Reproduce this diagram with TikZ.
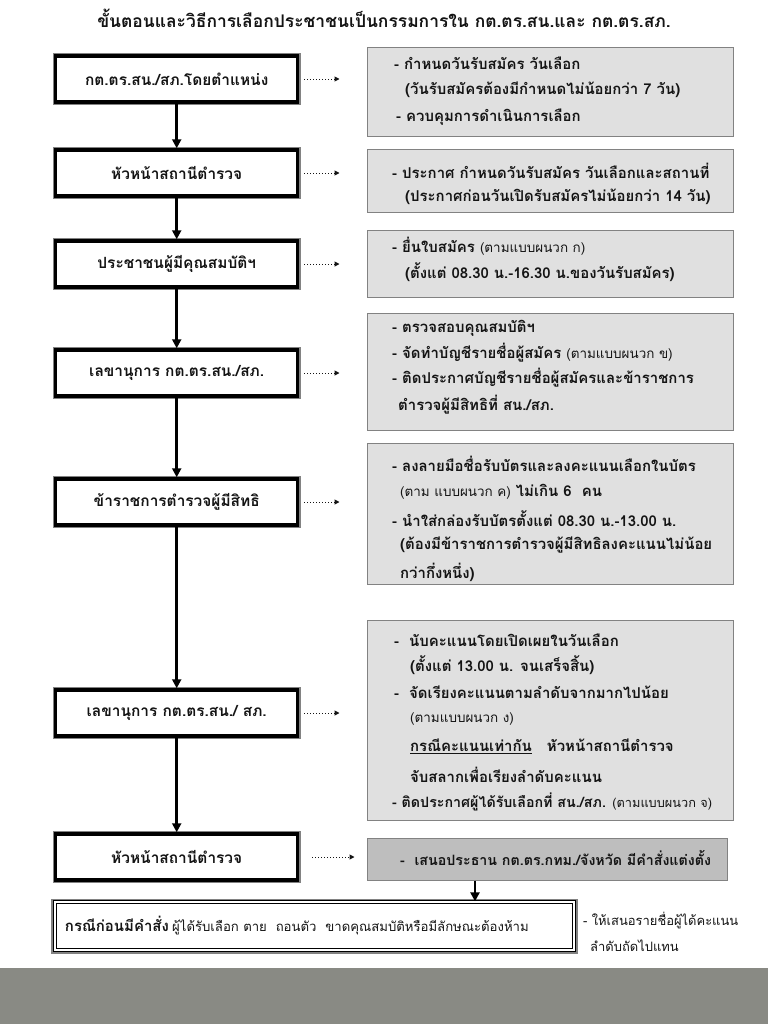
\documentclass[tikz,border=0pt]{standalone}
\usepackage{fontspec}
\setmainfont[Script=Thai]{Loma}
\usetikzlibrary{arrows.meta}
\definecolor{boxgray}{RGB}{224,224,224}
\definecolor{darkbox}{RGB}{190,190,190}
\definecolor{edgegray}{RGB}{130,130,130}
\definecolor{band}{RGB}{137,138,132}
\definecolor{ink}{RGB}{20,20,20}
\newcommand\regpart{\mdseries\fontsize{13.5}{16}\selectfont}
\begin{document}
\begin{tikzpicture}[x=1bp,y=-1bp,
  lbox/.style={draw=black, line width=3.5bp, fill=white, minimum width=242bp,
    minimum height=46bp, inner sep=0pt, text=ink,
    font=\bfseries\fontsize{15.5}{18}\selectfont,
    preaction={draw=edgegray, line width=6bp}},
  bbox/.style={draw=black, line width=1.3bp, double=white, double distance=2bp,
    fill=white, minimum width=519bp, minimum height=48bp, inner sep=0pt,
    preaction={draw=edgegray, line width=7bp}},
  gbox/.style={draw=edgegray, line width=1bp, fill=boxgray, inner sep=0pt,
    minimum width=366bp},
  gline/.style={anchor=west, inner sep=0pt, text=ink,
    font=\bfseries\fontsize{15}{17}\selectfont},
  titlestyle/.style={inner sep=0pt, text=ink, font=\bfseries\fontsize{17.5}{20}\selectfont},
  sidetext/.style={anchor=west, inner sep=0pt, text=ink, font=\fontsize{13}{16}\selectfont},
  arr/.style={draw=black, line width=2.5bp, -{Triangle[length=9bp,width=9bp]}},
  dotarr/.style={draw=ink, line width=1bp, dotted, -{Triangle[length=5bp,width=5bp]}}
]
\useasboundingbox (0,0) rectangle (768,1024);
\fill[white] (0,0) rectangle (768,1024);
\fill[band] (0,968) rectangle (768,1024);

\node[titlestyle] (title) at (384,18) {ขั้นตอนและวิธีการเลือกประชาชนเป็นกรรมการใน กต.ตร.สน.และ กต.ตร.สภ.};

% left column
\node[lbox] (l1) at (176.7,79) {กต.ตร.สน./สภ.โดยตำแหน่ง};
\node[lbox] (l2) at (176.7,173) {หัวหน้าสถานีตำรวจ};
\node[lbox] (l3) at (176.7,264) {ประชาชนผู้มีคุณสมบัติฯ};
\node[lbox] (l4) at (176.7,373) {เลขานุการ กต.ตร.สน./สภ.};
\node[lbox] (l5) at (176.7,502) {ข้าราชการตำรวจผู้มีสิทธิ};
\node[lbox] (l6) at (176.7,713) {เลขานุการ กต.ตร.สน./ สภ.};
\node[lbox] (l7) at (176.7,857) {หัวหน้าสถานีตำรวจ};

% gray boxes
\node[gbox, minimum height=89bp] (g1) at (550,91.5) {};
\node[gbox, minimum height=63bp] (g2) at (550,180.5) {};
\node[gbox, minimum height=67bp] (g3) at (550,263.5) {};
\node[gbox, minimum height=117bp] (g4) at (550,371.5) {};
\node[gbox, minimum height=141bp] (g5) at (550,513.5) {};
\node[gbox, minimum height=200bp] (g6) at (550,720) {};
\node[gbox, fill=darkbox, minimum width=360bp, minimum height=42bp] (g7) at (547,859) {};

% texts in gray boxes
\node[gline] (g1a) at (394,63) {- กำหนดวันรับสมัคร วันเลือก};
\node[gline] (g1b) at (405,90) {(วันรับสมัครต้องมีกำหนดไม่น้อยกว่า 7 วัน)};
\node[gline] (g1c) at (396,117) {- ควบคุมการดำเนินการเลือก};

\node[gline] (g2a) at (392,171) {- ประกาศ กำหนดวันรับสมัคร วันเลือกและสถานที่};
\node[gline] (g2b) at (405,197) {(ประกาศก่อนวันเปิดรับสมัครไม่น้อยกว่า 14 วัน)};

\node[gline] (g3a) at (392,246) {- ยื่นใบสมัคร {\regpart(ตามแบบผนวก ก)}};
\node[gline] (g3b) at (405,272) {(ตั้งแต่ 08.30 น.-16.30 น.ของวันรับสมัคร)};

\node[gline] (g4a) at (392,328) {- ตรวจสอบคุณสมบัติฯ};
\node[gline] (g4b) at (392,353) {- จัดทำบัญชีรายชื่อผู้สมัคร {\regpart(ตามแบบผนวก ข)}};
\node[gline] (g4c) at (392,378) {- ติดประกาศบัญชีรายชื่อผู้สมัครและข้าราชการ};
\node[gline] (g4d) at (398,405) {ตำรวจผู้มีสิทธิที่ สน./สภ.};

\node[gline] (g5a) at (392,464) {- ลงลายมือชื่อรับบัตรและลงคะแนนเลือกในบัตร};
\node[gline] (g5b) at (400,492) {{\regpart(ตาม แบบผนวก ค)} ไม่เกิน 6~ คน};
\node[gline] (g5c) at (392,519) {- นำใส่กล่องรับบัตรตั้งแต่ 08.30 น.-13.00 น.};
\node[gline] (g5d) at (400,545) {(ต้องมีข้าราชการตำรวจผู้มีสิทธิลงคะแนนไม่น้อย};
\node[gline] (g5e) at (400,572) {กว่ากึ่งหนึ่ง)};

\node[gline] (g6a) at (394,640) {-~ นับคะแนนโดยเปิดเผยในวันเลือก};
\node[gline] (g6b) at (410,665) {(ตั้งแต่ 13.00 น. จนเสร็จสิ้น)};
\node[gline] (g6c) at (394,692) {-~ จัดเรียงคะแนนตามลำดับจากมากไปน้อย};
\node[gline] (g6d) at (410,719) {\regpart(ตามแบบผนวก ง)};
\node[gline] (g6e) at (410,746) {\underline{กรณีคะแนนเท่ากัน}~~ หัวหน้าสถานีตำรวจ};
\node[gline] (g6f) at (410,775) {จับสลากเพื่อเรียงลำดับคะแนน};
\node[gline, font=\bfseries\fontsize{14.3}{17}\selectfont] (g6g) at (392,802)
  {- ติดประกาศผู้ได้รับเลือกที่ สน./สภ. {\mdseries\fontsize{12.8}{16}\selectfont(ตามแบบผนวก จ)}};

\node[gline, font=\bfseries\fontsize{14.3}{17}\selectfont] (g7a) at (400,858) {-~ เสนอประธาน กต.ตร.กทม./จังหวัด มีคำสั่งแต่งตั้ง};

% bottom box
\node[bbox, text=ink] (bb) at (314.5,926)
  {\makebox[515bp][l]{\hspace*{8bp}{\bfseries\fontsize{15}{17}\selectfont กรณีก่อนมีคำสั่ง} {\fontsize{13.2}{16}\selectfont ผู้ได้รับเลือก ตาย~ ถอนตัว~ ขาดคุณสมบัติหรือมีลักษณะต้องห้าม}}};
\node[sidetext] (s1) at (583,921) {- ให้เสนอรายชื่อผู้ได้คะแนน};
\node[sidetext] (s2) at (590,946) {ลำดับถัดไปแทน};

% solid arrows
\draw[arr] (l1.south) -- (l2.north);
\draw[arr] (l2.south) -- (l3.north);
\draw[arr] (l3.south) -- (l4.north);
\draw[arr] (l4.south) -- (l5.north);
\draw[arr] (l5.south) -- (l6.north);
\draw[arr] (l6.south) -- (l7.north);
\coordinate (gx) at ([xshift=-72bp]g7.south);
\draw[arr] (gx) -- (gx |- bb.north);

% dotted arrows
\foreach \n in {1,...,6}{
  \draw[dotarr, shorten <=5bp, shorten >=27bp] (l\n.east) -- (l\n.east -| g1.west);
}
\draw[dotarr, shorten <=13bp, shorten >=12bp] (l7.east) -- (l7.east -| g7.west);
\end{tikzpicture}
\end{document}
